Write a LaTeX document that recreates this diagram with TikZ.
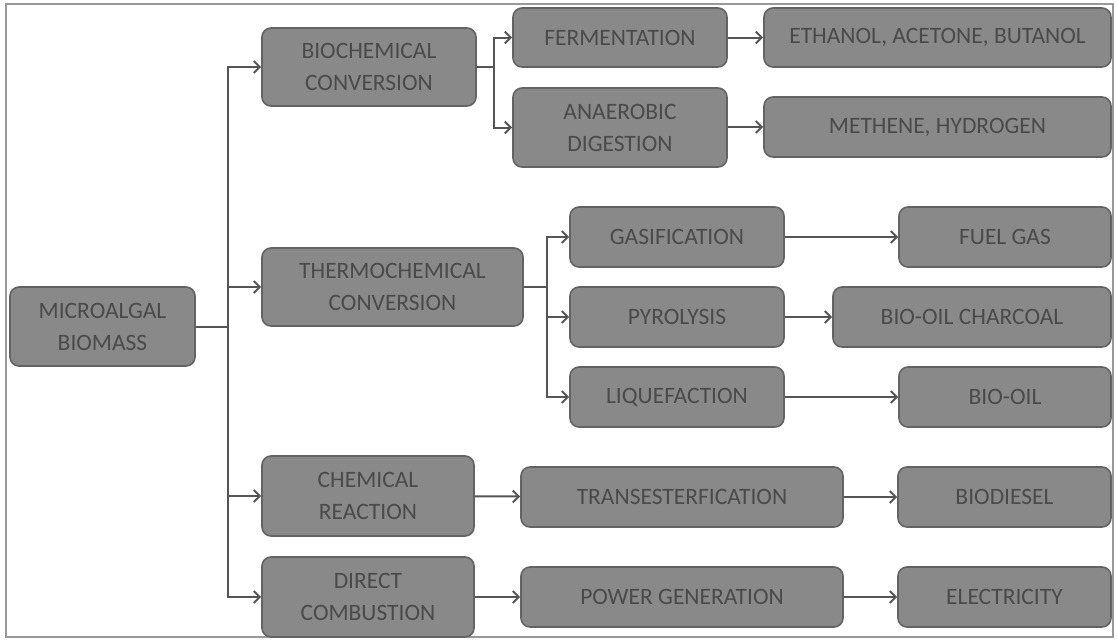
\documentclass[tikz,border=0pt]{standalone}
\usepackage{fontspec}
\setmainfont{Carlito}
\usepackage{tikz}
\usetikzlibrary{positioning,calc,arrows.meta}
\definecolor{boxfill}{HTML}{898989}
\definecolor{boxline}{HTML}{636363}
\definecolor{boxtext}{HTML}{4A4A4A}
\definecolor{linkgray}{HTML}{555555}
\definecolor{framegray}{HTML}{999999}

\tikzset{
  procbox/.style={draw=boxline, fill=boxfill, line width=1.6pt, rounded corners=9pt,
    text=boxtext, align=center, inner sep=0pt,
    font=\fontsize{23.5}{32}\selectfont},
  link/.style={draw=linkgray, line width=2pt, -{Straight Barb[length=6pt,width=12pt]}}
}

\begin{document}
\begin{tikzpicture}[x=1pt, y=-1pt]
            \useasboundingbox (0,0) rectangle (1117,640);
            \draw[framegray, line width=1.5pt] (6,4) rectangle (1113,637);

            % --- Source ---
            \node[procbox, minimum width=185pt, minimum height=79pt] (biomass) at (102.5,326.5) {MICROALGAL\\BIOMASS};

            % --- Conversion routes ---
            \node[procbox, minimum width=214pt, minimum height=78pt] (biochem) at (369,67) {BIOCHEMICAL\\CONVERSION};
            \node[procbox, minimum width=261pt, minimum height=78pt] (thermo) at (392.5,287) {THERMOCHEMICAL\\CONVERSION};
            \node[procbox, minimum width=212pt, minimum height=80pt] (chemreact) at (368,496) {CHEMICAL\\REACTION};
            \node[procbox, minimum width=212pt, minimum height=80pt] (combust) at (368,597) {DIRECT\\COMBUSTION};

            % --- Processes ---
            \node[procbox, minimum width=214pt, minimum height=59pt] (ferment) at (620,37.5) {FERMENTATION};
            \node[procbox, minimum width=214pt, minimum height=79pt] (anaerob) at (620,127.5) {ANAEROBIC\\DIGESTION};
            \node[procbox, minimum width=214pt, minimum height=60pt] (gasif) at (677,237) {GASIFICATION};
            \node[procbox, minimum width=214pt, minimum height=60pt] (pyrol) at (677,317) {PYROLYSIS};
            \node[procbox, minimum width=214pt, minimum height=60pt] (liquef) at (677,397) {LIQUEFACTION};
            \node[procbox, minimum width=322pt, minimum height=60pt] (transest) at (682,497) {TRANSESTERFICATION};
            \node[procbox, minimum width=322pt, minimum height=60pt] (powergen) at (682,597) {POWER GENERATION};

            % --- Products ---
            \node[procbox, minimum width=347pt, minimum height=59pt] (alcohols) at (937.5,37.5) {ETHANOL, ACETONE, BUTANOL};
            \node[procbox, minimum width=347pt, minimum height=60pt] (methane) at (937.5,127) {METHENE, HYDROGEN};
            \node[procbox, minimum width=212pt, minimum height=60pt] (fuelgas) at (1005,237) {FUEL GAS};
            \node[procbox, minimum width=278pt, minimum height=60pt] (charcoal) at (972,317) {BIO-OIL CHARCOAL};
            \node[procbox, minimum width=212pt, minimum height=60pt] (biooil) at (1005,397) {BIO-OIL};
            \node[procbox, minimum width=213pt, minimum height=60pt] (biodiesel) at (1004.5,497) {BIODIESEL};
            \node[procbox, minimum width=213pt, minimum height=60pt] (electric) at (1004.5,597) {ELECTRICITY};

            % Junctions
            \coordinate (jmain) at (228,326.5);
            \coordinate (jbio) at (494,67);
            \coordinate (jthermo) at (547,287);

            % Main trunk
            \draw[linkgray, line width=2pt] (biomass.east) -- (jmain);
            \draw[link] (jmain) |- (biochem.west);
            \draw[link] (jmain) |- (thermo.west);
            \draw[link] (jmain) |- (chemreact.west);
            \draw[link] (jmain) |- (combust.west);

            % Biochemical branch
            \draw[linkgray, line width=2pt] (biochem.east) -- (jbio);
            \draw[link] (jbio) |- (ferment.west);
            \draw[link] (jbio) |- (anaerob.west);

            % Thermochemical branch
            \draw[linkgray, line width=2pt] (thermo.east) -- (jthermo);
            \draw[link] (jthermo) |- (gasif.west);
            \draw[link] (jthermo) |- (pyrol.west);
            \draw[link] (jthermo) |- (liquef.west);

            % Process to product
            \draw[link] (ferment) -- (alcohols);
            \draw[link] (anaerob.east |- methane) -- (methane.west);
            \draw[link] (gasif) -- (fuelgas);
            \draw[link] (pyrol) -- (charcoal);
            \draw[link] (liquef) -- (biooil);
            \draw[link] (chemreact) -- (transest);
            \draw[link] (transest) -- (biodiesel);
            \draw[link] (combust) -- (powergen);
            \draw[link] (powergen) -- (electric);
        \end{tikzpicture}
\end{document}
